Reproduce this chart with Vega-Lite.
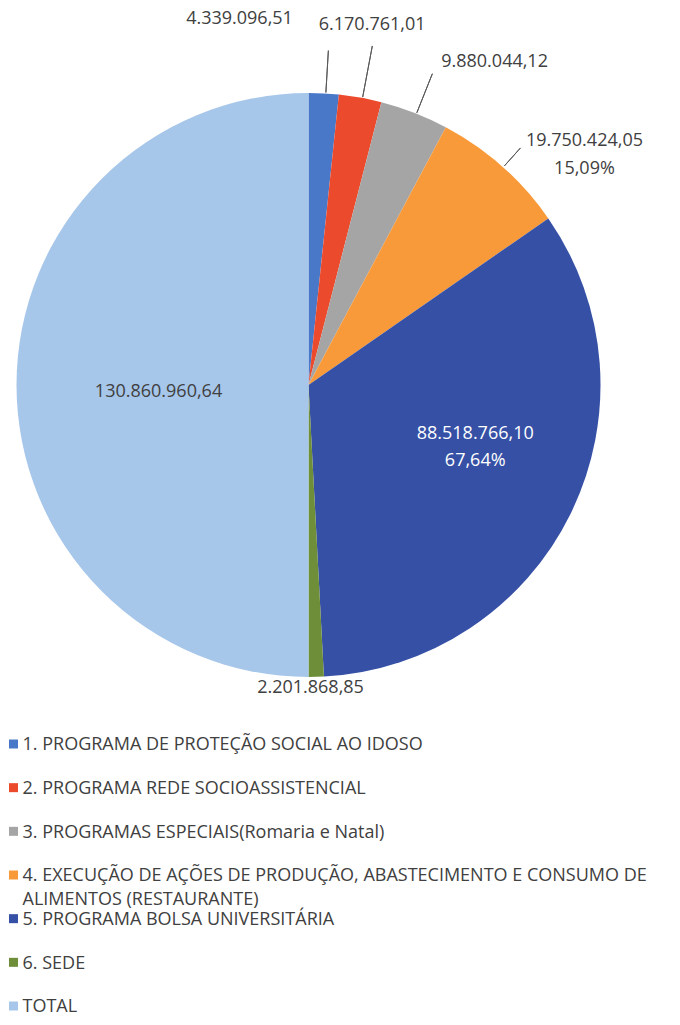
{
  "$schema": "https://vega.github.io/schema/vega-lite/v6.json",
  "padding": {"left": 8.5, "top": 10, "right": 0, "bottom": 0},
  "background": "white",
  "config": {"view": {"stroke": null}, "font": "Open Sans"},
  "data": {"values": [
    {"ord": 1, "cat": "1. PROGRAMA DE PROTEÇÃO SOCIAL AO IDOSO", "value": 4339096.51, "label": "4.339.096,51"},
    {"ord": 2, "cat": "2. PROGRAMA REDE SOCIOASSISTENCIAL", "value": 6170761.01, "label": "6.170.761,01"},
    {"ord": 3, "cat": "3. PROGRAMAS ESPECIAIS(Romaria e Natal)", "value": 9880044.12, "label": "9.880.044,12"},
    {"ord": 4, "cat": "4. EXECUÇÃO DE AÇÕES DE PRODUÇÃO, ABASTECIMENTO E CONSUMO DE\nALIMENTOS (RESTAURANTE)", "value": 19750424.05, "label": "19.750.424,05\n15,09%"},
    {"ord": 5, "cat": "5. PROGRAMA BOLSA UNIVERSITÁRIA", "value": 88518766.10, "label": "88.518.766,10\n67,64%"},
    {"ord": 6, "cat": "6. SEDE", "value": 2201868.85, "label": "2.201.868,85"},
    {"ord": 7, "cat": "TOTAL", "value": 130860960.64, "label": "130.860.960,64"}
  ]},
  "spacing": 67,
  "bounds": "flush",
  "vconcat": [
    {
      "width": 584,
      "height": 584,
      "transform": [{"stack": "value", "groupby": [], "sort": [{"field": "ord", "order": "ascending"}], "as": ["v0", "v1"]}],
      "layer": [
        {
          "mark": {"type": "arc"},
          "encoding": {
            "theta": {"field": "v0", "type": "quantitative", "stack": null, "scale": {"domain": [0, 261721921.28]}},
            "theta2": {"field": "v1"},
            "color": {"field": "ord", "type": "nominal", "legend": null,
              "scale": {"domain": [1, 2, 3, 4, 5, 6, 7], "range": ["#4A78C8", "#EC4A2C", "#A5A5A5", "#F99A3A", "#3550A5", "#6E8E3A", "#A6C6EA"]}}
          }
        },
        {
          "data": {"values": [{"k": 1}]},
          "mark": {"type": "arc", "innerRadius": 293, "outerRadius": 335, "fillOpacity": 0, "stroke": "#595959", "strokeWidth": 1},
          "encoding": {"theta": {"datum": 2471818.1, "type": "quantitative"}, "theta2": {"datum": 2471818.1}}
        },
        {
          "data": {"values": [{"k": 2}]},
          "mark": {"type": "arc", "innerRadius": 293, "outerRadius": 345, "fillOpacity": 0, "stroke": "#595959", "strokeWidth": 1},
          "encoding": {"theta": {"datum": 7749876.9, "type": "quantitative"}, "theta2": {"datum": 7749876.9}}
        },
        {
          "data": {"values": [{"k": 3}]},
          "mark": {"type": "arc", "innerRadius": 293, "outerRadius": 335, "fillOpacity": 0, "stroke": "#595959", "strokeWidth": 1},
          "encoding": {"theta": {"datum": 15776015.8, "type": "quantitative"}, "theta2": {"datum": 15776015.8}}
        },
        {
          "data": {"values": [{"k": 4}]},
          "mark": {"type": "arc", "innerRadius": 294, "outerRadius": 318, "fillOpacity": 0, "stroke": "#595959", "strokeWidth": 1},
          "encoding": {"theta": {"datum": 30388823.1, "type": "quantitative"}, "theta2": {"datum": 30388823.1}}
        },
        {
          "transform": [{"filter": "datum.ord == 1"}],
          "mark": {"type": "text", "radius": 366, "dx": -69, "align": "center", "baseline": "middle", "fontSize": 18, "color": "#404040"},
          "encoding": {"theta": {"field": "v0", "type": "quantitative", "stack": null}, "text": {"field": "label"}}
        },
        {
          "transform": [{"filter": "datum.ord == 2"}],
          "mark": {"type": "text", "radius": 362, "dx": 26, "align": "center", "baseline": "middle", "fontSize": 18, "color": "#404040"},
          "encoding": {"theta": {"field": "v0", "type": "quantitative", "stack": null}, "text": {"field": "label"}}
        },
        {
          "transform": [{"filter": "datum.ord == 3"}],
          "mark": {"type": "text", "radius": 366, "dx": 14, "align": "center", "baseline": "middle", "fontSize": 18, "color": "#404040"},
          "encoding": {"theta": {"field": "v1", "type": "quantitative", "stack": null}, "text": {"field": "label"}}
        },
        {
          "transform": [{"filter": "datum.ord == 4"}],
          "mark": {"type": "text", "radius": 336, "dy": -61, "align": "center", "baseline": "top", "lineBreak": "\n", "lineHeight": 28, "fontSize": 18, "color": "#404040"},
          "encoding": {"theta": {"field": "v1", "type": "quantitative", "stack": null}, "text": {"field": "label"}}
        },
        {
          "transform": [{"filter": "datum.ord == 5"}],
          "mark": {"type": "text", "radius": 203, "dy": 156, "align": "center", "baseline": "top", "lineBreak": "\n", "lineHeight": 27, "fontSize": 18, "color": "#FFFFFF"},
          "encoding": {"theta": {"field": "v0", "type": "quantitative", "stack": null}, "text": {"field": "label"}}
        },
        {
          "transform": [{"filter": "datum.ord == 6"}],
          "mark": {"type": "text", "radius": 303, "dx": 2, "align": "center", "baseline": "middle", "fontSize": 18, "color": "#404040"},
          "encoding": {"theta": {"field": "v1", "type": "quantitative", "stack": null}, "text": {"field": "label"}}
        },
        {
          "transform": [{"filter": "datum.ord == 7"}],
          "mark": {"type": "text", "radius": 7, "dx": -150, "align": "center", "baseline": "middle", "fontSize": 18, "color": "#404040"},
          "encoding": {"theta": {"field": "v0", "type": "quantitative", "stack": null}, "text": {"field": "label"}}
        }
      ]
    },
    {
      "width": 584,
      "height": 262,
      "layer": [
        {
          "mark": {"type": "square", "size": 81, "xOffset": -3, "opacity": 1},
          "encoding": {
            "x": {"datum": 0, "type": "quantitative", "scale": {"domain": [0, 1]}, "axis": null},
            "y": {"field": "cat", "type": "nominal", "sort": {"field": "ord", "op": "min"}, "scale": {"type": "point", "padding": 0}, "axis": null},
            "color": {"field": "ord", "type": "nominal", "legend": null,
              "scale": {"domain": [1, 2, 3, 4, 5, 6, 7], "range": ["#4A78C8", "#EC4A2C", "#A5A5A5", "#F99A3A", "#3550A5", "#6E8E3A", "#A6C6EA"]}}
          }
        },
        {
          "mark": {"type": "text", "align": "left", "baseline": "top", "dx": 6, "dy": -7.7, "lineBreak": "\n", "lineHeight": 24, "fontSize": 18, "color": "#404040"},
          "encoding": {
            "x": {"datum": 0, "type": "quantitative", "scale": {"domain": [0, 1]}, "axis": null},
            "y": {"field": "cat", "type": "nominal", "sort": {"field": "ord", "op": "min"}, "scale": {"type": "point", "padding": 0}, "axis": null},
            "text": {"field": "cat"}
          }
        }
      ]
    }
  ]
}
